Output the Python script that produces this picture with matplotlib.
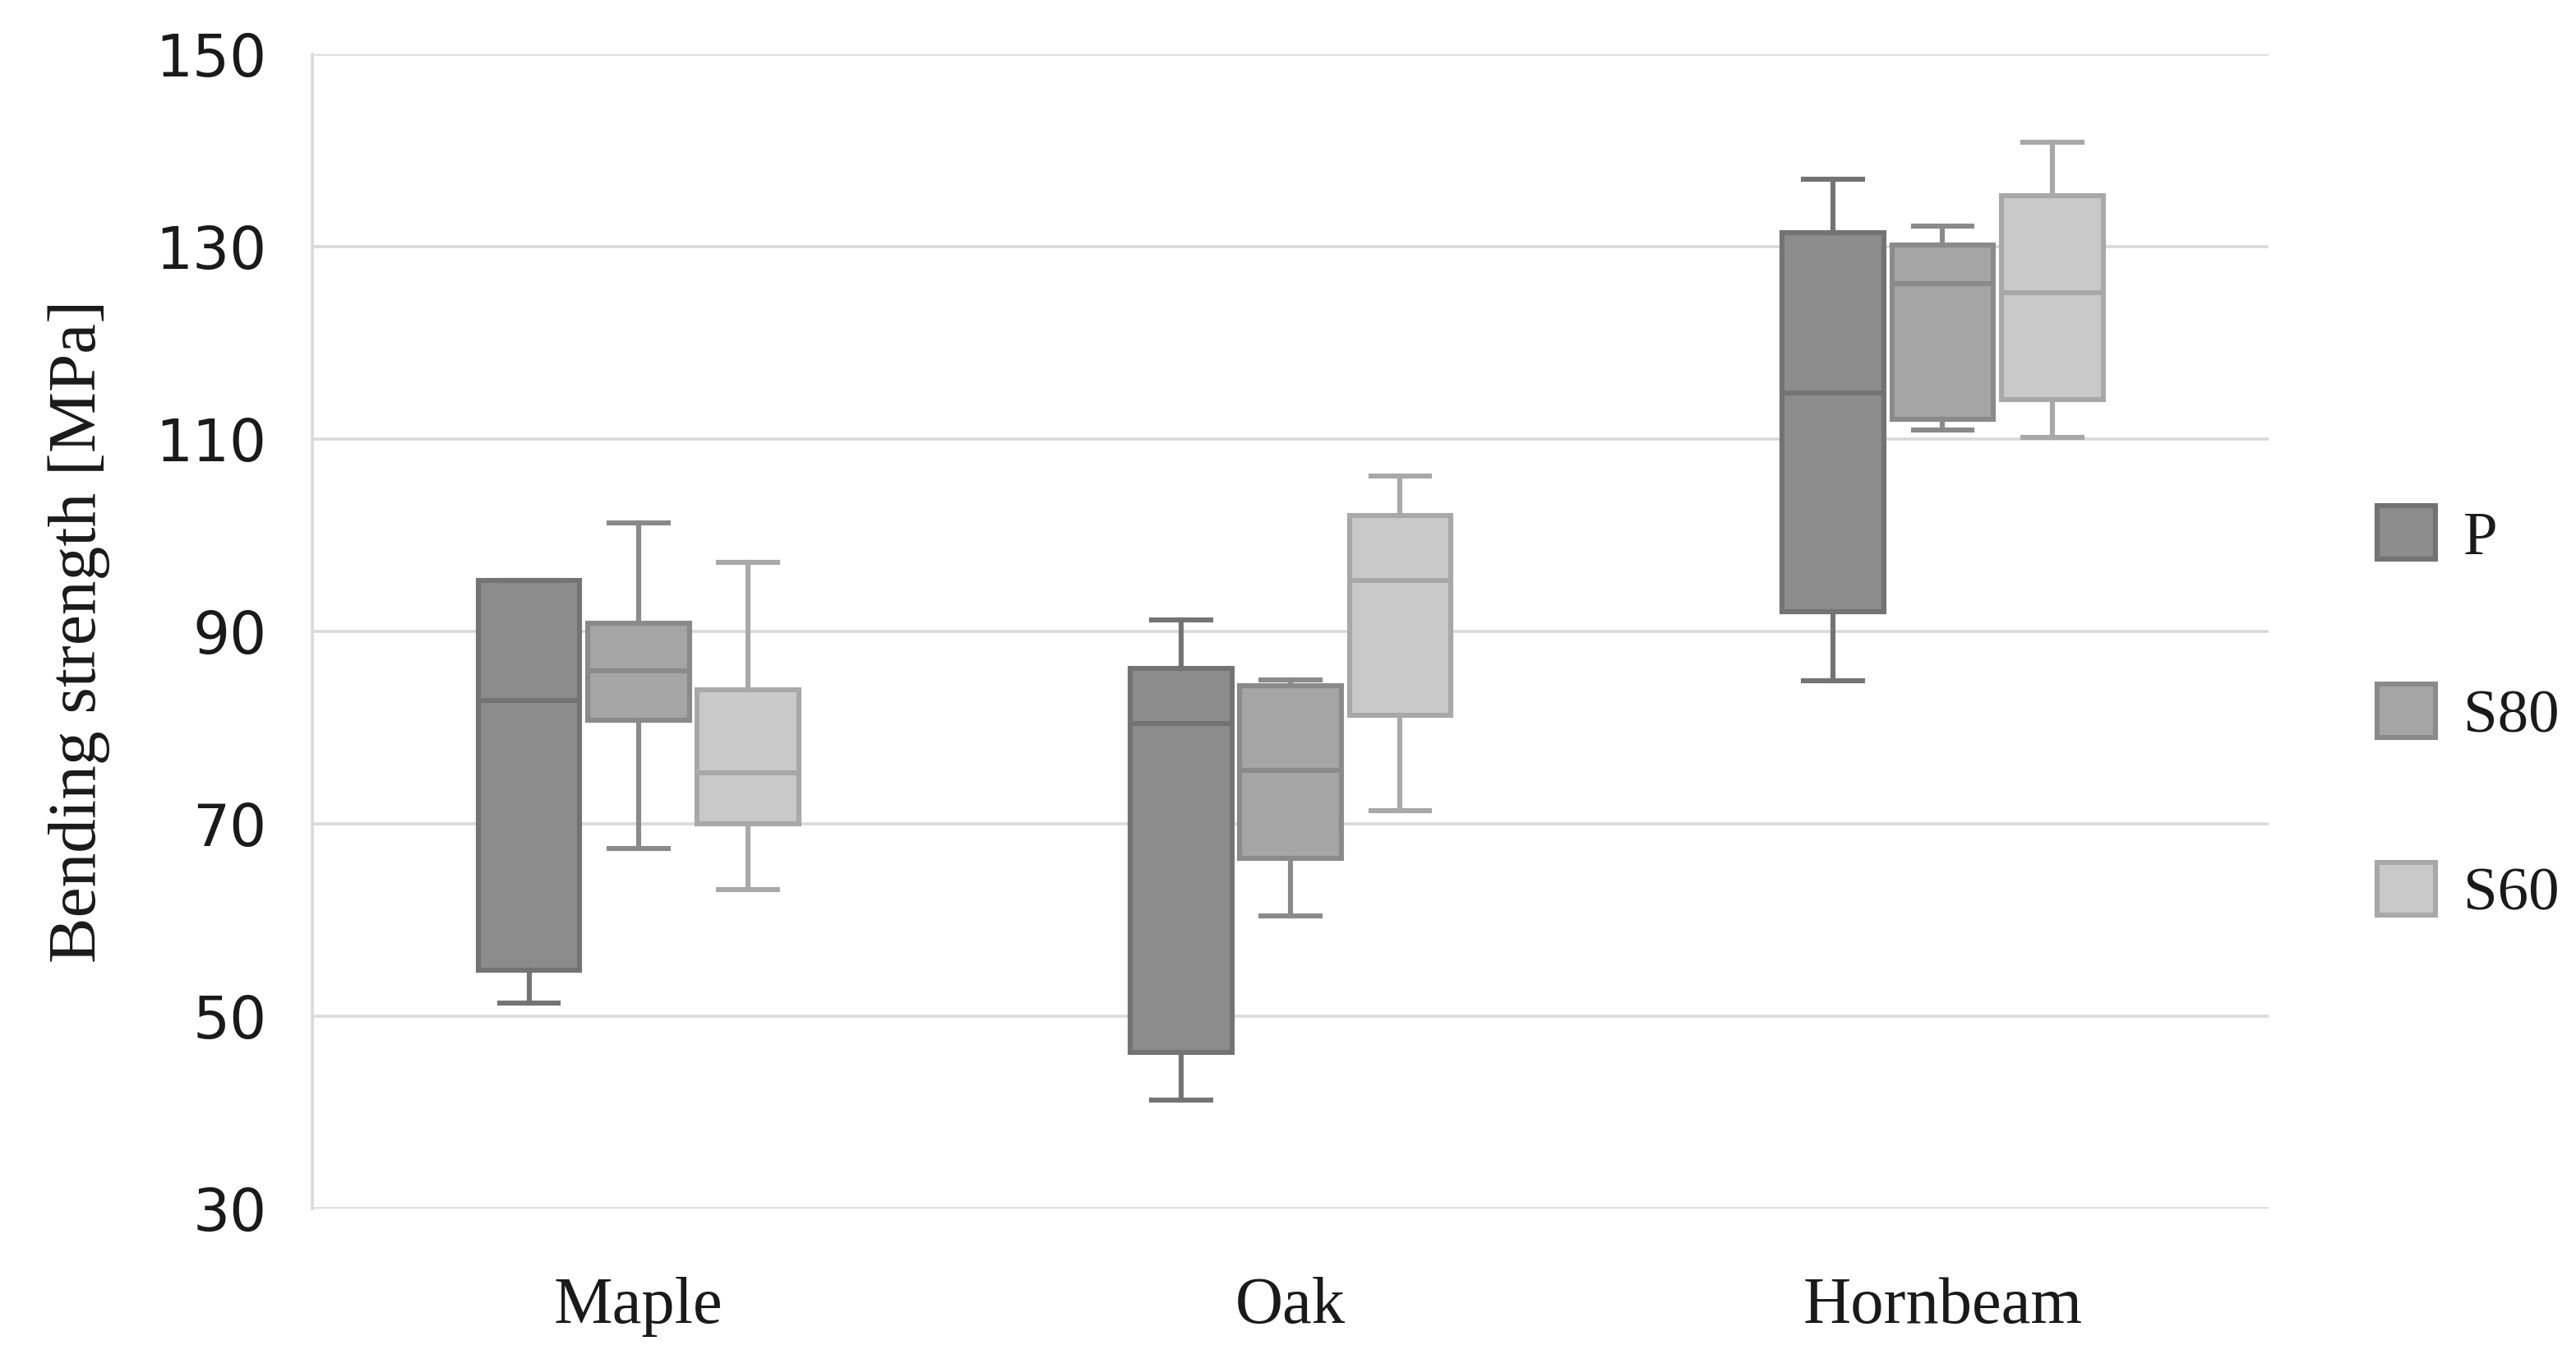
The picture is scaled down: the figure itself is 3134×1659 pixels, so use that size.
import matplotlib
matplotlib.use('Agg')
import matplotlib.pyplot as plt
from matplotlib.patches import Patch
import numpy as np

# --------------------------------------------------------------------------------------
# Data

species  = ['Maple', 'Oak', 'Hornbeam']
series   = ['P', 'S80', 'S60']

# per series: one value per species
whis_lo  = {'P':   [51.4, 41.3, 84.9],
            'S80': [67.4, 60.4, 111.0],
            'S60': [63.2, 71.4, 110.2]}
q1       = {'P':   [54.8, 46.2, 92.1],
            'S80': [80.8, 66.4, 112.1],
            'S60': [70.0, 81.3, 114.1]}
median   = {'P':   [82.8, 80.4, 114.8],
            'S80': [85.9, 75.6, 126.2],
            'S60': [75.3, 95.3, 125.2]}
q3       = {'P':   [95.3, 86.2, 131.5],
            'S80': [90.9, 84.4, 130.2],
            'S60': [83.9, 102.1, 135.3]}
whis_hi  = {'P':   [95.3, 91.2, 137.0],
            'S80': [101.3, 85.0, 132.2],
            'S60': [97.2, 106.2, 140.9]}

yticks   = [30, 50, 70, 90, 110, 130, 150]

# --------------------------------------------------------------------------------------
# Styles

face  = {'P': '#8c8c8c', 'S80': '#a5a5a5', 'S60': '#c9c9c9'}
edge  = {'P': '#737373', 'S80': '#8a8a8a', 'S60': '#a8a8a8'}
offs  = {'P': -0.168, 'S80': 0.0, 'S60': 0.168}
boxw  = 0.156

serif = 'Liberation Serif'
txtc  = '#1a1a1a'

# --------------------------------------------------------------------------------------
# Create chart

fig = plt.figure(figsize=(15.67, 8.295), dpi=200)
ax = fig.add_axes([0.1213, 0.114, 0.7594, 0.846])

x = np.arange(len(species))

for s in series:
    stats = []
    for i in range(len(species)):
        stats.append({'med': median[s][i], 'q1': q1[s][i], 'q3': q3[s][i],
                      'whislo': whis_lo[s][i], 'whishi': whis_hi[s][i],
                      'fliers': []})
    ax.bxp(stats, positions=x + offs[s], widths=boxw, capwidths=boxw * 0.58,
           patch_artist=True, showfliers=False, manage_ticks=False,
           boxprops=dict(facecolor=face[s], edgecolor=edge[s], linewidth=2.2),
           medianprops=dict(color=edge[s], linewidth=2.2),
           whiskerprops=dict(color=edge[s], linewidth=2.2),
           capprops=dict(color=edge[s], linewidth=2.2))

# axes
ax.set_xlim(-0.5, 2.5)
ax.set_ylim(30, 150)
ax.set_yticks(yticks)
ax.set_xticks(x)
ax.set_xticklabels(species, fontfamily=serif, fontsize=29)
for lab in ax.get_yticklabels():
    lab.set_fontfamily('DejaVu Sans')
    lab.set_fontsize(25.5)
ax.tick_params(axis='both', length=0, colors=txtc)
ax.tick_params(axis='x', pad=30)
ax.tick_params(axis='y', pad=20)

ax.grid(True, axis='y', color='#d9d9d9', linewidth=1.3)
ax.set_axisbelow(True)
for sp in ['top', 'right', 'bottom']:
    ax.spines[sp].set_visible(False)
ax.spines['left'].set_color('#d9d9d9')
ax.spines['left'].set_linewidth(1.3)

ax.set_ylabel('Bending strength [MPa]', fontfamily=serif, fontsize=30,
              color=txtc, labelpad=20)

# legend
handles = [Patch(facecolor=face[s], edgecolor=edge[s], linewidth=2.2, label=s)
           for s in series]
leg = ax.legend(handles=handles, loc='center left', bbox_to_anchor=(1.027, 0.428),
                frameon=False, prop={'family': serif, 'size': 27},
                handlelength=0.95, handleheight=0.95, labelspacing=1.9,
                handletextpad=0.45)
for t in leg.get_texts():
    t.set_color(txtc)

fig.savefig('out.png', dpi=200, facecolor='white')
